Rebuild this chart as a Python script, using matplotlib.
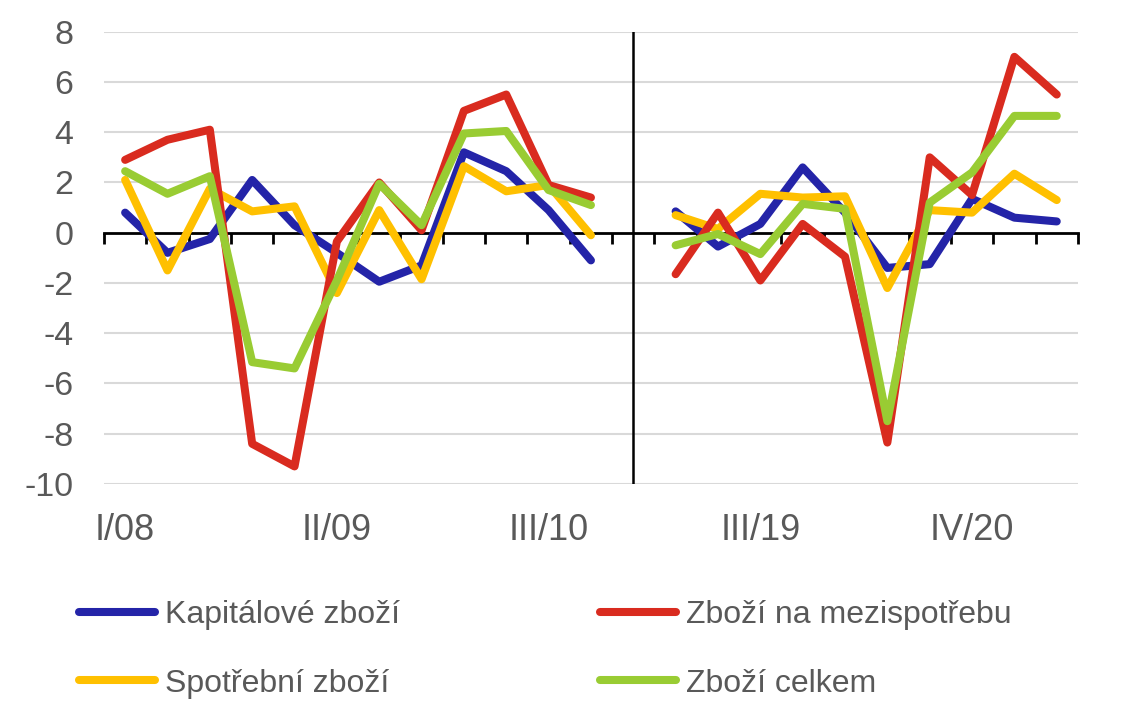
import numpy as np
import matplotlib
matplotlib.use('Agg')
import matplotlib.pyplot as plt

plt.rcParams['font.family'] = ['Liberation Sans', 'DejaVu Sans']
plt.rcParams['axes.unicode_minus'] = False

# quarters of the two periods (2008-2010 and 2019-2021)
quarters_a = ['I/08', 'II/08', 'III/08', 'IV/08', 'I/09', 'II/09', 'III/09', 'IV/09',
              'I/10', 'II/10', 'III/10', 'IV/10']
quarters_b = ['I/19', 'II/19', 'III/19', 'IV/19', 'I/20', 'II/20', 'III/20', 'IV/20',
              'I/21', 'II/21']
shown_labels = ['I/08', 'II/09', 'III/10', 'III/19', 'IV/20']

# values
kapitalove_a = [0.8, -0.8, -0.25, 2.1, 0.3, -0.8, -1.95, -1.3, 3.2, 2.45, 0.9, -1.1]
kapitalove_b = [0.85, -0.55, 0.35, 2.6, 0.8, -1.4, -1.25, 1.35, 0.6, 0.45]
mezispotreba_a = [2.9, 3.7, 4.1, -8.4, -9.3, -0.35, 2.0, 0.1, 4.85, 5.5, 1.9, 1.4]
mezispotreba_b = [-1.65, 0.8, -1.9, 0.35, -0.95, -8.35, 3.0, 1.5, 7.0, 5.5]
spotrebni_a = [2.1, -1.5, 1.75, 0.85, 1.05, -2.4, 0.9, -1.85, 2.65, 1.65, 1.9, -0.1]
spotrebni_b = [0.7, 0.15, 1.55, 1.4, 1.45, -2.2, 0.9, 0.8, 2.35, 1.3]
celkem_a = [2.45, 1.55, 2.25, -5.15, -5.4, -1.9, 1.95, 0.3, 3.95, 4.05, 1.7, 1.1]
celkem_b = [-0.5, -0.05, -0.85, 1.15, 0.95, -7.5, 1.2, 2.4, 4.65, 4.65]

series = [
    ('Kapitálové zboží', kapitalove_a, kapitalove_b, '#2424A8'),
    ('Spotřební zboží', spotrebni_a, spotrebni_b, '#FFC000'),
    ('Zboží na mezispotřebu', mezispotreba_a, mezispotreba_b, '#D92B1F'),
    ('Zboží celkem', celkem_a, celkem_b, '#99CC33'),
]

categories = quarters_a + [''] + quarters_b
x = np.arange(len(categories))
gap = len(quarters_a)

fig = plt.figure(figsize=(11.24, 7.21), dpi=100)
ax = fig.add_axes([0.0925, 0.3287, 0.8665, 0.6273])

for y in range(-10, 9, 2):
    if y != 0:
        ax.axhline(y, color='#D9D9D9', lw=1.5, zorder=0)

handles = []
for name, a, b, col in series:
    vals = list(a) + [np.nan] + list(b)
    h, = ax.plot(x, vals, color=col, lw=5.8, solid_joinstyle='round',
                 solid_capstyle='round', label=name, zorder=3)
    handles.append(h)

ax.axvline(gap, color='black', lw=1.8, zorder=4)

ax.set_xlim(-0.5, len(categories) - 0.5)
ax.set_ylim(-10, 8)
ax.set_yticks(range(-10, 9, 2))
ax.tick_params(axis='y', length=0, pad=22, labelsize=24.5, labelcolor='#595959')

for s in ['left', 'right', 'top']:
    ax.spines[s].set_visible(False)
ax.spines['bottom'].set_position(('data', 0))
ax.spines['bottom'].set_linewidth(2)
ax.spines['bottom'].set_zorder(2)
ax.set_xticks(np.arange(-0.5, len(categories), 1.0))
ax.set_xticklabels([])
ax.tick_params(axis='x', direction='out', length=8, width=2, color='black')

sec = ax.secondary_xaxis(0)
sec.spines['bottom'].set_visible(False)
pos = [categories.index(l) for l in shown_labels]
sec.set_xticks(pos)
sec.set_xticklabels(shown_labels)
sec.tick_params(length=0, pad=21, labelsize=26, labelcolor='#595959')

fig.legend(handles=handles, loc='upper left', bbox_to_anchor=(0.07, 0.1675),
           ncol=2, frameon=False, fontsize=23, handlelength=2.4,
           handletextpad=0.3, columnspacing=6.25, labelspacing=1.2,
           borderaxespad=0, borderpad=0, labelcolor='#595959')

fig.savefig('out.png', dpi=100)
